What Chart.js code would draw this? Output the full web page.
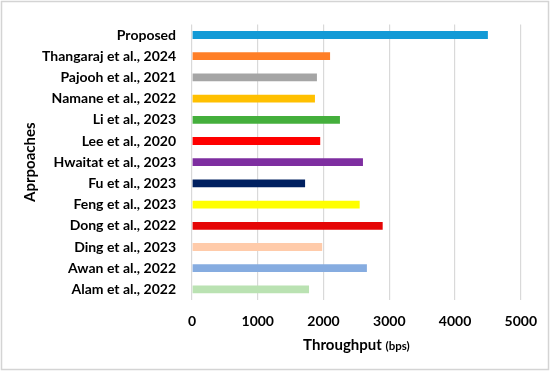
<!DOCTYPE html>
<html>
<head>
<meta charset="utf-8">
<script src="https://cdn.jsdelivr.net/npm/chart.js@4"></script>
<style>
  html, body { margin: 0; padding: 0; background: #fff; }
  #wrap { width: 550px; height: 371px; position: relative; }
</style>
</head>
<body>
<div id="wrap"><canvas id="throughputChart" width="550" height="371"></canvas></div>
<script>
const approaches = [
    "Proposed", "Thangaraj et al., 2024", "Pajooh et al., 2021", "Namane et al., 2022",
    "Li et al., 2023", "Lee et al., 2020", "Hwaitat et al., 2023", "Fu et al., 2023",
    "Feng et al., 2023", "Dong et al., 2022", "Ding et al., 2023", "Awan et al., 2022",
    "Alam et al., 2022"
];
const throughput = [4500, 2100, 1900, 1870, 2250, 1950, 2600, 1720, 2550, 2900, 1980, 2660, 1780];
const barColors = [
    "#139ad6", "#ff7f27", "#a5a5a5", "#ffc000", "#44af3c", "#ff0000", "#7e2ea0",
    "#002060", "#ffff00", "#e50606", "#ffcbaa", "#86ace0", "#bae2b2"
];
const xTicks = [0, 1000, 2000, 3000, 4000, 5000];

const FONT = "Lato, 'Open Sans', sans-serif";

// draws the frame and both axis titles (x title mixes two font sizes)
const titlesPlugin = {
    id: 'titles',
    beforeDraw(chart) {
        const ctx = chart.ctx;
        ctx.save();
        ctx.strokeStyle = "#d4d4d4";
        ctx.lineWidth = 1.5;
        ctx.strokeRect(1.5, 1.5, chart.width - 3, chart.height - 3);
        ctx.restore();
    },
    afterDraw(chart) {
        const ctx = chart.ctx;
        const area = chart.chartArea;
        ctx.save();
        ctx.fillStyle = "#000";
        ctx.textBaseline = "middle";
        // x title
        const big = "bold 15px " + FONT;
        const small = "bold 11.5px " + FONT;
        ctx.font = big;
        const w1 = ctx.measureText("Throughput ").width;
        ctx.font = small;
        const w2 = ctx.measureText("(bps)").width;
        const cx = (area.left + area.right) / 2;
        let x0 = cx - (w1 + w2) / 2;
        ctx.textAlign = "left";
        ctx.font = big;
        ctx.fillText("Throughput ", x0, 345);
        ctx.font = small;
        ctx.fillText("(bps)", x0 + w1, 346);
        // y title
        ctx.translate(30, (area.top + area.bottom) / 2);
        ctx.rotate(-Math.PI / 2);
        ctx.textAlign = "center";
        ctx.font = big;
        ctx.fillText("Aprpoaches", 0, 0);
        ctx.restore();
    }
};

new Chart(document.getElementById('throughputChart').getContext('2d'), {
    type: 'bar',
    data: {
        labels: approaches,
        datasets: [{
            data: throughput,
            backgroundColor: barColors,
            barPercentage: 0.37,
            categoryPercentage: 1.0
        }]
    },
    options: {
        indexAxis: 'y',
        responsive: false,
        animation: false,
        layout: { padding: { top: 16, right: 26, left: 0, bottom: 0 } },
        plugins: {
            legend: { display: false },
            tooltip: { enabled: false }
        },
        scales: {
            x: {
                min: 0,
                max: 5000,
                afterBuildTicks: function(scale) {
                    scale.ticks = xTicks.map(v => ({ value: v }));
                },
                afterFit: function(scale) { scale.height = 71; },
                grid: { color: "#d9d9d9", lineWidth: 1.2, drawTicks: false },
                border: { display: false },
                ticks: {
                    padding: 13,
                    color: "#000",
                    font: { family: FONT, size: 14, weight: 'bold' },
                    callback: function(value) { return String(value); }
                }
            },
            y: {
                afterFit: function(scale) { scale.width = 192; },
                grid: { display: false, drawTicks: false },
                border: { display: false },
                ticks: {
                    padding: 16,
                    color: "#000",
                    font: { family: FONT, size: 14, weight: 'bold' }
                }
            }
        }
    },
    plugins: [titlesPlugin]
});
</script>
</body>
</html>
